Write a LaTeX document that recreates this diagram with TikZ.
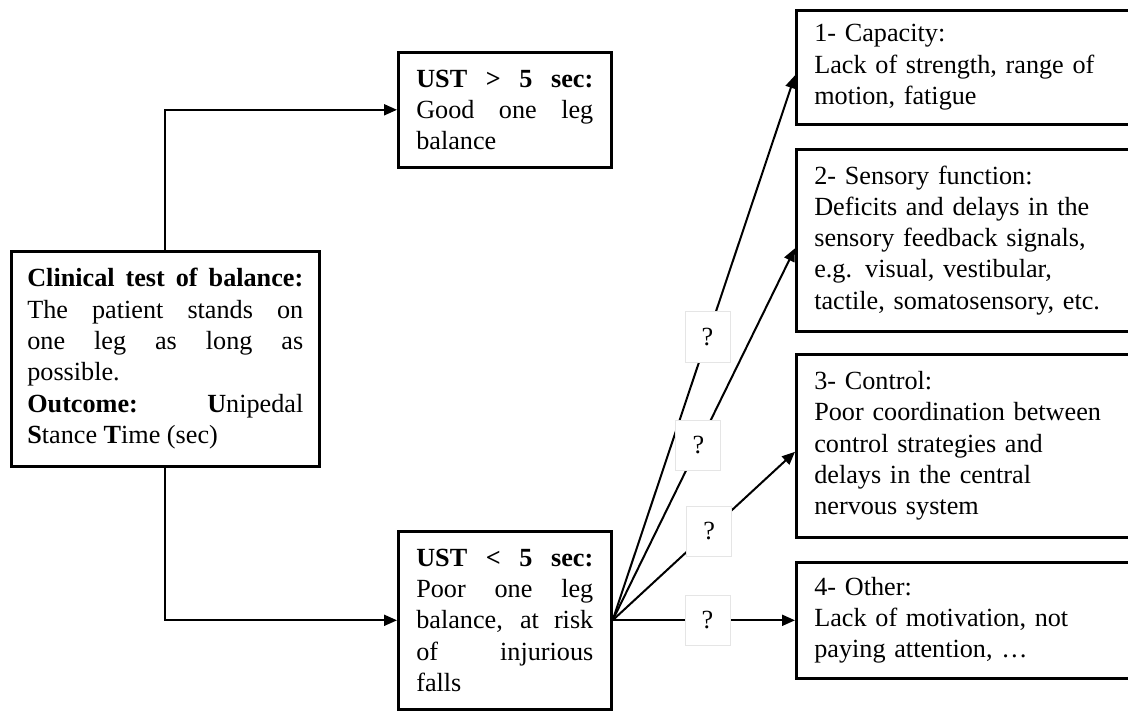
\documentclass[tikz,border=0pt]{standalone}
\usepackage{fontspec}
\setmainfont{Liberation Serif}
\usetikzlibrary{arrows.meta, positioning, calc}

\begin{document}
\begin{tikzpicture}[x=0.5pt, y=-0.5pt,
    every node/.style={font=\fontsize{13.1}{15.65}\selectfont},
    box/.style={draw, line width=1.3pt, anchor=north west, inner ysep=2pt},
    testbox/.style={box, text width=138pt, inner xsep=8pt, align=justify, minimum height=107.5pt},
    ustbox/.style={box, text width=88.5pt, inner xsep=9pt, align=justify},
    causebox/.style={box, text width=154.5pt, inner xsep=9pt, align=left},
    qbox/.style={draw=black!10, line width=0.4pt, fill=white, minimum width=22.5pt, minimum height=25pt, inner sep=0pt},
    arr/.style={-{Triangle[length=6.5pt, width=5.5pt]}, line width=1pt}]
    \useasboundingbox (0,0) rectangle (1128,711);

    % left: the test
    \node[testbox] (test) at (10,250) {\textbf{Clinical test of balance:}\linebreak
        The patient stands on\linebreak one leg as long as\linebreak possible.\\
        \textbf{Outcome:} \textbf{U}nipedal\linebreak \textbf{S}tance \textbf{T}ime (sec)};

    % middle: the two outcomes
    \node[ustbox, minimum height=57.5pt] (good) at (397,51) {\textbf{UST > 5 sec:}\linebreak
        Good one leg\linebreak balance};
    \node[ustbox, minimum height=89pt] (poor) at (397,530) {\textbf{UST < 5 sec:}\linebreak
        Poor one leg\linebreak balance, at risk\linebreak of injurious\linebreak falls};

    % right: possible causes
    \node[causebox, minimum height=57pt] (cap) at (795,9) {1- Capacity:\\Lack of strength, range of\\motion, fatigue};
    \node[causebox, minimum height=91pt] (sens) at (795,148) {2- Sensory function:\\Deficits and delays in the\\
        sensory feedback signals,\\e.g. visual, vestibular,\\tactile, somatosensory, etc.};
    \node[causebox, minimum height=91.5pt] (ctrl) at (795,353) {3- Control:\\Poor coordination between\\
        control strategies and\\delays in the central\\nervous system};
    \node[causebox, minimum height=58pt] (other) at (795,561) {4- Other:\\Lack of motivation, not\\paying attention, …};

    \draw[arr] (test.north) |- (good.west);
    \draw[arr] (test.south) |- (poor.west);

    \draw[arr] (poor.east) -- ([yshift=-4pt]cap.west) node[qbox, pos=0.52] (q1) {?};
    \draw[arr] (poor.east) -- ([yshift=-4pt]sens.west) node[qbox, pos=0.47] (q2) {?};
    \draw[arr] (poor.east) -- ([yshift=-3pt]ctrl.west) node[qbox, pos=0.53] (q3) {?};
    \draw[arr] (poor.east) -- (other.west) node[qbox, pos=0.52] (q4) {?};
\end{tikzpicture}
\end{document}
